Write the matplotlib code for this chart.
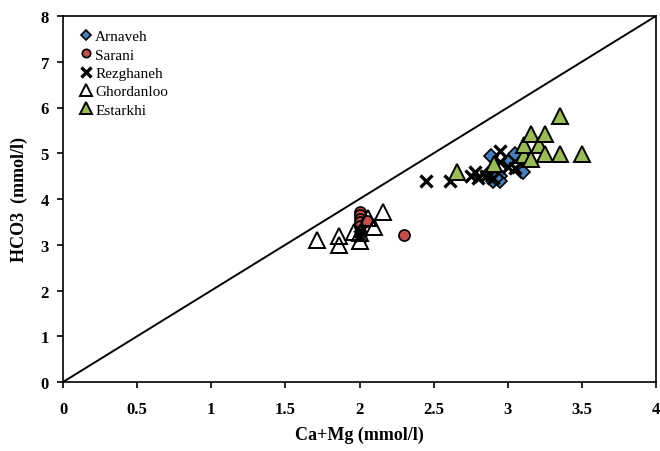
import matplotlib
matplotlib.use("Agg")
import matplotlib.pyplot as plt

# Arnaveh
arnaveh_x = [2.87, 2.90, 2.95, 2.95, 2.89, 3.05, 3.09, 2.92, 3.00, 3.10]
arnaveh_y = [4.55, 4.40, 4.51, 4.40, 4.95, 4.99, 4.62, 4.45, 4.80, 4.58]
# Sarani
sarani_x = [2.00, 2.00, 2.00, 2.00, 2.00, 2.05, 2.30]
sarani_y = [3.72, 3.65, 3.57, 3.50, 3.42, 3.53, 3.22]
# Rezghaneh
rezghaneh_x = [2.00, 2.00, 2.45, 2.61, 2.75, 2.78, 2.80, 2.85, 2.90, 2.95, 2.95, 3.00, 3.05]
rezghaneh_y = [3.20, 3.30, 4.40, 4.40, 4.50, 4.58, 4.45, 4.50, 4.45, 5.05, 4.80, 4.70, 4.68]
# Ghordanloo
ghordanloo_x = [1.71, 1.86, 1.86, 1.96, 2.00, 2.00, 2.06, 2.10, 2.16]
ghordanloo_y = [3.10, 3.20, 2.99, 3.28, 3.09, 3.25, 3.58, 3.38, 3.71]
# Estarkhi
estarkhi_x = [2.66, 2.91, 3.11, 3.11, 3.16, 3.16, 3.21, 3.25, 3.25, 3.35, 3.35, 3.50]
estarkhi_y = [4.58, 4.77, 4.96, 5.17, 5.42, 4.88, 5.18, 5.42, 4.98, 5.82, 4.98, 4.98]

serif = "Liberation Serif"

fig = plt.figure(figsize=(6.6, 4.52), dpi=100)
ax = fig.add_axes([63 / 660, 1 - 383 / 452, 593 / 660, 366 / 452])

ax.plot([0, 4], [0, 8], color="black", lw=1.4, zorder=1)

ax.plot(arnaveh_x, arnaveh_y, ls="none", marker="D", ms=7,
        mfc="#4a7ebb", mec="black", mew=1.2, label="Arnaveh")
ax.plot(sarani_x, sarani_y, ls="none", marker="o", ms=8,
        mfc="#c0504d", mec="black", mew=1.2, label="Sarani")
ax.plot(rezghaneh_x, rezghaneh_y, ls="none", marker="x", ms=9,
        mec="black", mew=2.4, label="Rezghaneh")
ax.plot(ghordanloo_x, ghordanloo_y, ls="none", marker="^", ms=11,
        mfc="none", mec="black", mew=1.4, label="Ghordanloo")
ax.plot(estarkhi_x, estarkhi_y, ls="none", marker="^", ms=11,
        mfc="#9bbb59", mec="black", mew=1.4, label="Estarkhi")

ax.set_xlim(0, 4)
ax.set_ylim(0, 8)
ax.set_xticks([0, 0.5, 1, 1.5, 2, 2.5, 3, 3.5, 4])
ax.set_xticklabels(["0", "0.5", "1", "1.5", "2", "2.5", "3", "3.5", "4"])
ax.set_yticks(range(0, 9))
ax.tick_params(direction="out", length=4, width=1.2, labelsize=12)
ax.tick_params(axis="x", pad=10)
ax.tick_params(axis="y", pad=6)
for lab in ax.get_xticklabels() + ax.get_yticklabels():
    lab.set_fontfamily(serif)
    lab.set_fontweight("bold")
for sp in ax.spines.values():
    sp.set_linewidth(1.2)

ax.set_xlabel("Ca+Mg (mmol/l)", fontfamily=serif, fontweight="bold",
              fontsize=13, labelpad=6)
ax.set_ylabel("HCO3  (mmol/l)", fontfamily=serif, fontweight="bold",
              fontsize=13, labelpad=9)

leg = ax.legend(loc="upper left", frameon=False, prop={"family": serif, "size": 11},
                handletextpad=0.0, handlelength=1.2, labelspacing=0.3,
                borderaxespad=0.5, markerscale=0.75)

fig.savefig("out.png", dpi=100)
